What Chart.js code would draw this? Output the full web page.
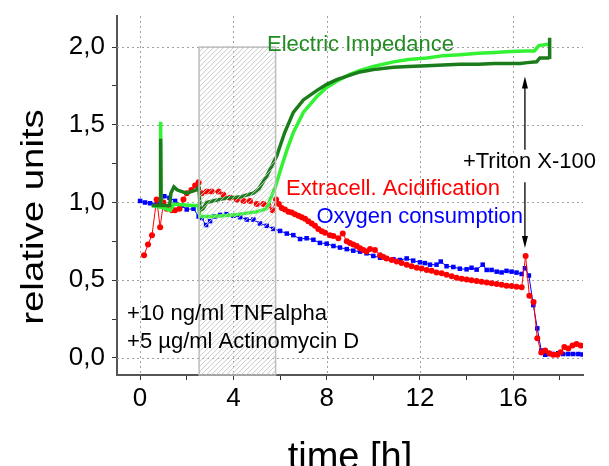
<!DOCTYPE html>
<html lang="de">
<head>
<meta charset="UTF-8">
<title>relative units vs time</title>
<script src="https://cdn.jsdelivr.net/npm/chart.js"></script>
<style>
  body { margin: 0; background: #fff; }
  .wrap { width: 609px; height: 466px; position: relative; }
</style>
</head>
<body>
<div class="wrap"><canvas id="chart"></canvas></div>
<script>
// axes
const xTickValues = [0, 2, 4, 6, 8, 10, 12, 14, 16, 18];
const xTickLabels = ['0', '', '4', '', '8', '', '12', '', '16', ''];
const yTickValues = [0, 0.25, 0.5, 0.75, 1, 1.25, 1.5, 1.75, 2];
const yTickLabels = ['0,0', '', '0,5', '', '1,0', '', '1,5', '', '2,0'];

// Electric Impedance, two wells (dark / light green)
const tImpDark = [0.5, 0.86, 0.88, 0.9, 1.27, 1.32, 1.45, 1.6, 1.8, 2.0, 2.2, 2.4, 2.52, 2.58, 2.7, 2.86, 3.1, 3.43, 3.8, 4.29, 4.6, 4.86, 5.1, 5.43, 5.6, 5.86, 6.2, 6.57, 7.0, 7.57, 8.0, 8.43, 9.0, 9.43, 10.0, 10.86, 11.5, 12.3, 13.0, 13.7, 14.5, 15.2, 15.7, 16.3, 16.6, 17.0, 17.14, 17.5, 17.54, 17.56];
const impDark = [0.98, 0.98, 1.41, 0.98, 0.98, 1.06, 1.1, 1.08, 1.07, 1.06, 1.07, 1.08, 1.1, 0.95, 0.96, 1.0, 1.01, 1.02, 1.03, 1.035, 1.05, 1.06, 1.09, 1.17, 1.22, 1.3, 1.45, 1.58, 1.66, 1.72, 1.76, 1.79, 1.82, 1.84, 1.855, 1.87, 1.875, 1.88, 1.885, 1.89, 1.89, 1.895, 1.895, 1.895, 1.9, 1.905, 1.93, 1.93, 1.935, 2.06];
const tImpLight = [0.5, 0.86, 0.88, 0.9, 1.3, 1.45, 1.8, 2.2, 2.5, 2.56, 3.0, 3.5, 4.0, 4.5, 5.0, 5.43, 5.6, 5.8, 6.0, 6.3, 6.57, 7.0, 7.57, 8.0, 8.43, 9.0, 9.43, 10.0, 10.86, 11.5, 12.3, 13.0, 13.7, 14.5, 15.2, 15.7, 16.5, 16.9, 17.1, 17.57];
const impLight = [0.98, 0.97, 1.52, 0.97, 0.95, 0.99, 0.985, 0.98, 0.98, 0.91, 0.91, 0.915, 0.92, 0.93, 0.94, 0.96, 1.03, 1.1, 1.2, 1.34, 1.45, 1.58, 1.68, 1.74, 1.78, 1.825, 1.85, 1.875, 1.905, 1.92, 1.93, 1.945, 1.95, 1.96, 1.965, 1.97, 1.975, 1.975, 2.01, 2.02];

// Extracell. Acidification
const tAcid = [0.17, 0.34, 0.51, 0.71, 0.86, 1.0, 1.14, 1.36, 1.5, 1.69, 1.86, 2.0, 2.2, 2.36, 2.51, 2.64, 2.86, 3.07, 3.36, 3.57, 3.86, 4.14, 4.43, 4.71, 5.0, 5.29, 5.5, 5.69, 5.83, 5.95, 6.07, 6.21, 6.36, 6.5, 6.64, 6.79, 6.93, 7.07, 7.21, 7.36, 7.5, 7.64, 7.79, 7.93, 8.14, 8.29, 8.5, 8.69, 8.86, 9.0, 9.14, 9.29, 9.43, 9.57, 9.71, 9.86, 10.07, 10.29, 10.43, 10.57, 10.79, 11.0, 11.21, 11.43, 11.64, 11.86, 12.07, 12.29, 12.5, 12.71, 12.93, 13.14, 13.36, 13.57, 13.79, 14.0, 14.21, 14.43, 14.64, 14.86, 15.07, 15.29, 15.5, 15.71, 15.93, 16.14, 16.36, 16.53, 16.69, 16.87, 17.03, 17.2, 17.37, 17.54, 17.71, 17.89, 18.03, 18.19, 18.36, 18.54, 18.71, 18.89];
const acid = [0.66, 0.73, 0.79, 1.02, 0.84, 1.0, 0.96, 0.95, 0.95, 0.96, 1.02, 1.06, 1.08, 1.11, 1.13, 1.06, 1.07, 1.07, 1.07, 1.05, 1.03, 1.02, 1.01, 1.01, 0.99, 0.99, 0.98, 0.95, 1.02, 0.99, 0.965, 0.955, 0.94, 0.935, 0.925, 0.915, 0.905, 0.895, 0.88, 0.865, 0.85, 0.83, 0.815, 0.805, 0.79, 0.785, 0.77, 0.8, 0.75, 0.74, 0.73, 0.72, 0.705, 0.695, 0.684, 0.7, 0.695, 0.66, 0.65, 0.64, 0.63, 0.62, 0.61, 0.6, 0.59, 0.58, 0.575, 0.566, 0.56, 0.55, 0.545, 0.535, 0.525, 0.515, 0.51, 0.505, 0.5, 0.495, 0.49, 0.485, 0.48, 0.475, 0.47, 0.465, 0.462, 0.458, 0.455, 0.656, 0.4, 0.36, 0.127, 0.034, 0.047, 0.03, 0.02, 0.02, 0.037, 0.07, 0.06, 0.08, 0.09, 0.08];

// Oxygen consumption
const tOxy = [0, 0.21, 0.43, 0.71, 1.04, 1.26, 1.5, 1.79, 2.0, 2.29, 2.51, 2.64, 2.83, 3.0, 3.19, 3.43, 3.71, 4.0, 4.29, 4.57, 4.86, 5.14, 5.43, 5.71, 6.0, 6.29, 6.57, 6.86, 7.14, 7.43, 7.71, 8.0, 8.29, 8.57, 8.86, 9.14, 9.43, 9.71, 10.0, 10.29, 10.57, 10.86, 11.14, 11.43, 11.71, 12.0, 12.21, 12.43, 12.71, 12.89, 13.14, 13.43, 13.71, 14.0, 14.21, 14.43, 14.69, 14.86, 15.07, 15.29, 15.5, 15.71, 15.93, 16.14, 16.36, 16.5, 16.67, 16.86, 17.03, 17.2, 17.37, 17.54, 17.71, 17.93, 18.14, 18.36, 18.57, 18.79, 18.97];
const oxy = [1.01, 1.0, 0.995, 0.99, 1.04, 1.03, 1.01, 0.98, 0.955, 0.96, 0.91, 0.9, 0.855, 0.88, 0.91, 0.92, 0.925, 0.915, 0.905, 0.89, 0.89, 0.865, 0.85, 0.83, 0.817, 0.8, 0.79, 0.765, 0.77, 0.76, 0.74, 0.735, 0.72, 0.71, 0.7, 0.69, 0.684, 0.673, 0.656, 0.645, 0.64, 0.635, 0.63, 0.64, 0.626, 0.615, 0.61, 0.6, 0.6, 0.62, 0.59, 0.585, 0.574, 0.57, 0.58, 0.568, 0.6, 0.566, 0.566, 0.555, 0.55, 0.56, 0.555, 0.549, 0.54, 0.577, 0.53, 0.34, 0.19, 0.047, 0.02, 0.025, 0.025, 0.03, 0.025, 0.025, 0.025, 0.025, 0.022];

// treatment window (hatched box) and Triton arrow, in data units
const shadeFrom = 2.53, shadeTo = 5.81, shadeTop = 2.0;
const tritonAt = 16.5;

const FONT = '"Liberation Sans", Arial, sans-serif';

function pts(t, v) {
  return t.map((x, i) => ({ x: x, y: v[i] }));
}

const overlay = {
  id: 'overlay',
  beforeDatasetsDraw(chart) {
    // dotted grid at the labelled ticks only
    const { ctx, chartArea: a, scales: { x, y } } = chart;
    ctx.save();
    ctx.strokeStyle = '#a0a0a0';
    ctx.lineWidth = 1;
    ctx.setLineDash([2, 3]);
    ctx.beginPath();
    xTickValues.forEach((v, i) => {
      if (!xTickLabels[i]) return;
      const px = Math.round(x.getPixelForValue(v)) + 0.5;
      ctx.moveTo(px, a.top);
      ctx.lineTo(px, a.bottom);
    });
    yTickValues.forEach((v, i) => {
      if (!yTickLabels[i]) return;
      const py = Math.round(y.getPixelForValue(v)) + 0.5;
      ctx.moveTo(a.left, py);
      ctx.lineTo(a.right, py);
    });
    ctx.stroke();
    ctx.restore();
  },
  afterDatasetsDraw(chart) {
    const { ctx, chartArea, scales: { x, y } } = chart;
    const l = x.getPixelForValue(shadeFrom), r = x.getPixelForValue(shadeTo);
    const t = y.getPixelForValue(shadeTop), b = chartArea.bottom;
    const h = b - t;
    ctx.save();
    ctx.beginPath();
    ctx.rect(l, t, r - l, h);
    ctx.clip();
    ctx.strokeStyle = '#c8c8c8';
    ctx.lineWidth = 1;
    ctx.beginPath();
    for (let k = l - h; k < r; k += 5) {
      ctx.moveTo(k, b);
      ctx.lineTo(k + h, t);
    }
    ctx.stroke();
    ctx.restore();
    ctx.save();
    ctx.strokeStyle = '#bdbdbd';
    ctx.lineWidth = 1.5;
    ctx.strokeRect(l, t, r - l, h);
    ctx.restore();
  },
  afterDraw(chart) {
    const { ctx, scales: { x, y } } = chart;
    ctx.save();
    ctx.font = '22px ' + FONT;
    ctx.textBaseline = 'alphabetic';
    ctx.textAlign = 'left';
    const label = (txt, col, tx, vy) => {
      ctx.fillStyle = col;
      ctx.fillText(txt, x.getPixelForValue(tx), y.getPixelForValue(vy));
    };
    label('Electric Impedance', '#228b22', 5.44, 1.974);
    label('Extracell. Acidification', '#ff0000', 6.26, 1.048);
    label('Oxygen consumption', '#0000ff', 7.56, 0.868);
    label('+Triton X-100', '#000', 13.84, 1.222);
    label('+10 ng/ml TNFalpha', '#000', -0.56, 0.244);
    label('+5 \u00b5g/ml Actinomycin D', '#000', -0.56, 0.064);

    // arrows
    const ax = x.getPixelForValue(tritonAt);
    const arrow = (from, to) => {
      const y0 = y.getPixelForValue(from), y1 = y.getPixelForValue(to);
      const dir = Math.sign(y1 - y0);
      ctx.strokeStyle = '#000';
      ctx.fillStyle = '#000';
      ctx.lineWidth = 1.3;
      ctx.beginPath();
      ctx.moveTo(ax, y0);
      ctx.lineTo(ax, y1 - dir * 8);
      ctx.stroke();
      ctx.beginPath();
      ctx.moveTo(ax, y1);
      ctx.lineTo(ax - 3, y1 - dir * 12);
      ctx.lineTo(ax + 3, y1 - dir * 12);
      ctx.closePath();
      ctx.fill();
    };
    arrow(1.34, 1.81);
    arrow(1.13, 0.707);

    // y axis title
    ctx.translate(34, 217);
    ctx.rotate(-Math.PI / 2);
    ctx.scale(1.2, 1);
    ctx.font = '32px ' + FONT;
    ctx.fillStyle = '#000';
    ctx.textAlign = 'center';
    ctx.textBaseline = 'middle';
    ctx.fillText('relative units', 0, 0);
    ctx.restore();
  }
};

new Chart(document.getElementById('chart'), {
  type: 'scatter',
  data: {
    datasets: [
      {
        label: 'Electric Impedance',
        data: pts(tImpDark, impDark),
        showLine: true,
        borderColor: '#1a7c1a',
        borderWidth: 3.5,
        pointRadius: 0,
        tension: 0
      },
      {
        label: 'Electric Impedance 2',
        data: pts(tImpLight, impLight),
        showLine: true,
        borderColor: '#33f233',
        borderWidth: 3.5,
        pointRadius: 0,
        tension: 0
      },
      {
        label: 'Extracell. Acidification',
        data: pts(tAcid, acid),
        showLine: true,
        borderColor: '#ff0000',
        borderWidth: 1,
        pointRadius: 3,
        pointBorderWidth: 0,
        pointBackgroundColor: '#ff0000',
        tension: 0
      },
      {
        label: 'Oxygen consumption',
        data: pts(tOxy, oxy),
        showLine: true,
        borderColor: '#0000ff',
        borderWidth: 1,
        pointStyle: 'rect',
        pointRadius: 3.2,
        pointBorderWidth: 0,
        pointBackgroundColor: '#0000ff',
        tension: 0
      }
    ]
  },
  options: {
    responsive: true,
    maintainAspectRatio: false,
    animation: false,
    layout: { padding: { left: 0, top: 16, right: 26, bottom: 0 } },
    plugins: { legend: { display: false }, tooltip: { enabled: false } },
    scales: {
      x: {
        type: 'linear',
        min: -0.99,
        max: 18.99,
        afterBuildTicks: s => { s.ticks = xTickValues.map(v => ({ value: v })); },
        afterFit: s => {
          s.height = 91;
          s.paddingLeft = 0;
          s.paddingRight = 0;
        },
        ticks: {
          autoSkip: false,
          maxRotation: 0,
          padding: 3,
          color: '#000',
          font: { family: FONT, size: 26 },
          callback: (v, i) => xTickLabels[i]
        },
        grid: {
          drawOnChartArea: false,
          tickColor: '#333',
          tickLength: 5
        },
        border: { color: '#555', width: 2 },
        title: {
          display: true,
          text: 'time [h]',
          color: '#000',
          font: { family: FONT, size: 38, lineHeight: 0.4 },
          padding: 0
        }
      },
      y: {
        type: 'linear',
        min: -0.11,
        max: 2.2,
        afterBuildTicks: s => { s.ticks = yTickValues.map(v => ({ value: v })); },
        afterFit: s => {
          s.width = 117;
          s.paddingTop = 0;
          s.paddingBottom = 0;
        },
        ticks: {
          autoSkip: false,
          padding: 7,
          color: '#000',
          font: { family: FONT, size: 26 },
          callback: (v, i) => yTickLabels[i]
        },
        grid: {
          drawOnChartArea: false,
          tickColor: '#333',
          tickLength: 5
        },
        border: { color: '#555', width: 2 }
      }
    }
  },
  plugins: [overlay]
});
</script>
</body>
</html>
